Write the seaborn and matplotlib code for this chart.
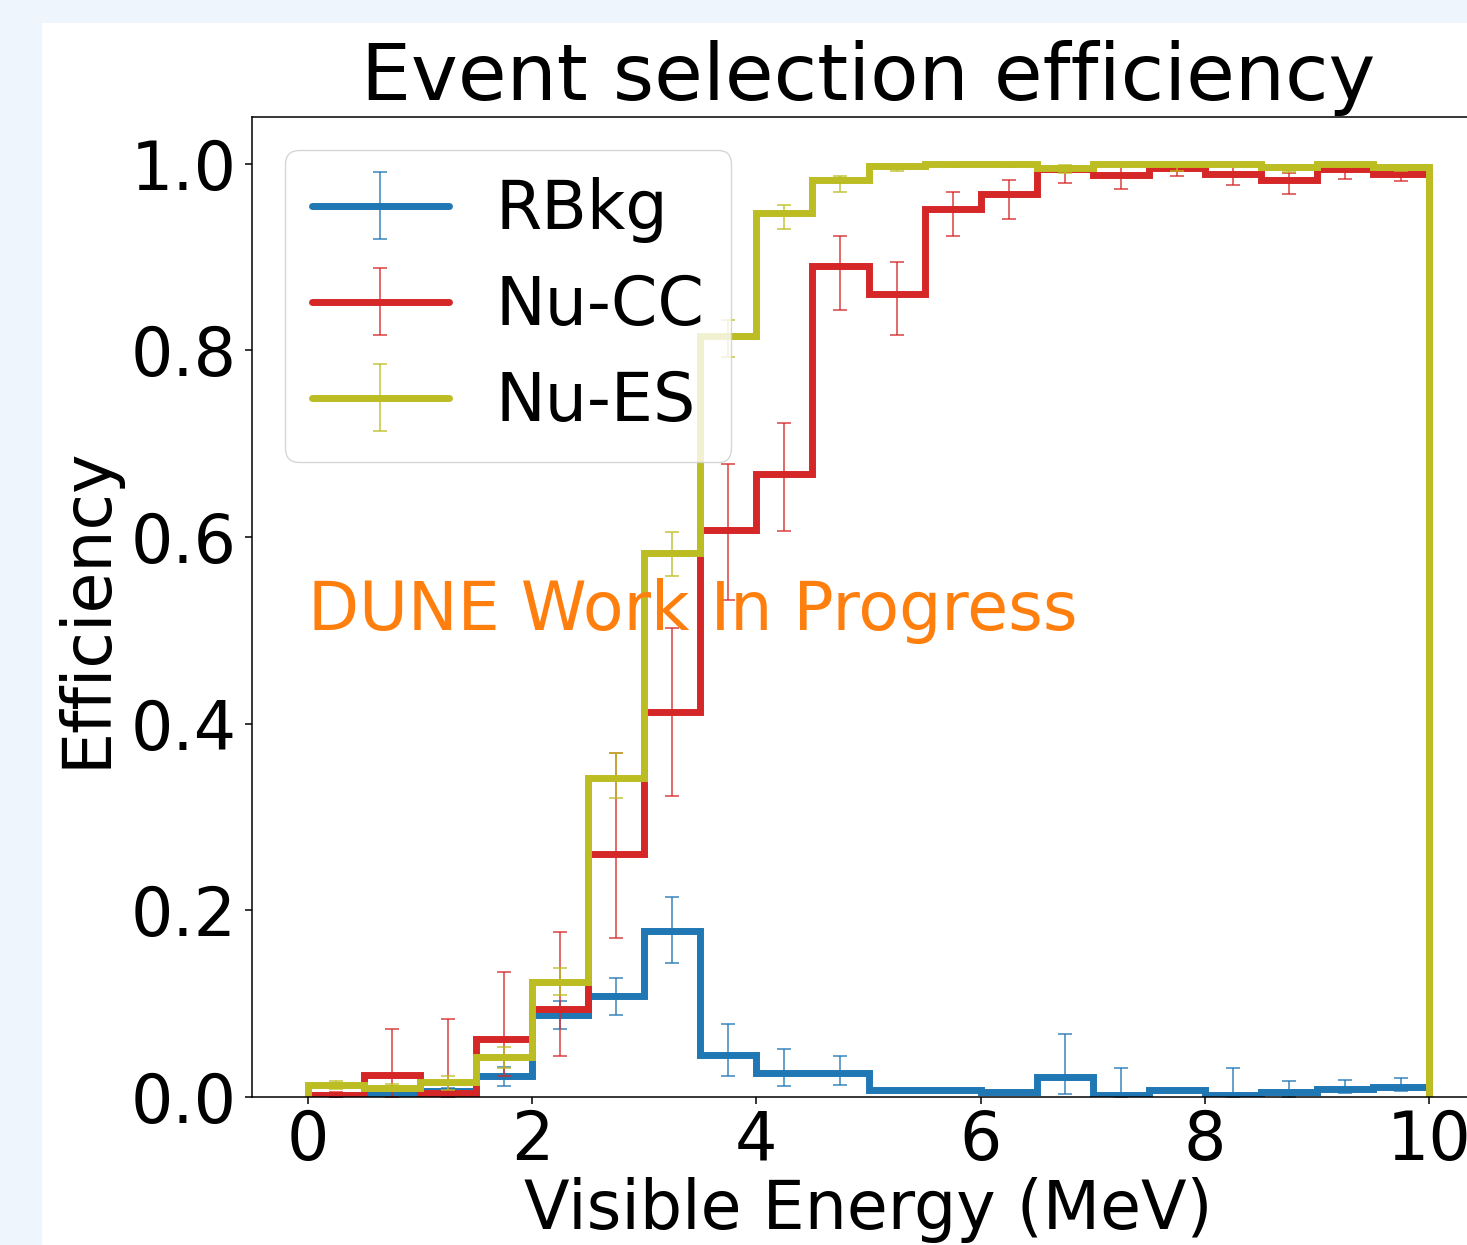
import numpy as np
import seaborn as sns
import matplotlib
matplotlib.use("Agg")
import matplotlib.pyplot as plt
from matplotlib.patches import Rectangle
from matplotlib.lines import Line2D
from matplotlib.legend_handler import HandlerTuple

# bin edges in visible energy (MeV), 20 bins of 0.5 MeV
bin_edges = np.arange(0, 10.01, 0.5)
bin_centers = 0.5 * (bin_edges[:-1] + bin_edges[1:])

labels = ["RBkg", "Nu-CC", "Nu-ES"]
colors = ["tab:blue", "tab:red", "tab:olive"]

# efficiencies
eff_rbkg = [0.001, 0.004, 0.006, 0.022, 0.088, 0.108, 0.178, 0.045, 0.026, 0.026,
            0.007, 0.007, 0.005, 0.021, 0.002, 0.008, 0.002, 0.005, 0.009, 0.011]
eff_nucc = [0.002, 0.024, 0.004, 0.062, 0.094, 0.260, 0.412, 0.607, 0.667, 0.890,
            0.860, 0.951, 0.967, 0.994, 0.988, 0.995, 0.989, 0.983, 0.994, 0.989]
eff_nues = [0.013, 0.010, 0.016, 0.043, 0.123, 0.342, 0.583, 0.815, 0.947, 0.983,
            0.997, 1.000, 1.000, 0.995, 1.000, 1.000, 1.000, 0.996, 1.000, 0.996]

# asymmetric errors (lower, upper)
err_lo_rbkg = [0.001, 0.003, 0.004, 0.010, 0.015, 0.020, 0.034, 0.022, 0.014, 0.013,
               0.000, 0.000, 0.000, 0.018, 0.002, 0.000, 0.002, 0.005, 0.005, 0.005]
err_hi_rbkg = [0.002, 0.003, 0.004, 0.010, 0.015, 0.020, 0.036, 0.033, 0.025, 0.018,
               0.000, 0.000, 0.000, 0.047, 0.029, 0.000, 0.029, 0.012, 0.009, 0.009]
err_lo_nucc = [0.002, 0.024, 0.004, 0.040, 0.050, 0.090, 0.089, 0.075, 0.061, 0.047,
               0.044, 0.028, 0.026, 0.015, 0.015, 0.008, 0.012, 0.015, 0.010, 0.008]
err_hi_nucc = [0.003, 0.049, 0.080, 0.072, 0.083, 0.109, 0.090, 0.071, 0.055, 0.033,
               0.035, 0.019, 0.015, 0.004, 0.009, 0.004, 0.008, 0.007, 0.004, 0.007]
err_lo_nues = [0.004, 0.004, 0.008, 0.012, 0.014, 0.022, 0.025, 0.022, 0.017, 0.013,
               0.005, 0.004, 0.004, 0.005, 0.003, 0.008, 0.003, 0.005, 0.004, 0.004]
err_hi_nues = [0.004, 0.004, 0.006, 0.011, 0.015, 0.027, 0.022, 0.018, 0.009, 0.004,
               0.002, 0.000, 0.000, 0.004, 0.000, 0.000, 0.000, 0.003, 0.000, 0.002]

series = [
    (eff_rbkg, err_lo_rbkg, err_hi_rbkg),
    (eff_nucc, err_lo_nucc, err_hi_nucc),
    (eff_nues, err_lo_nues, err_hi_nues),
]

sns.set_style("ticks")
plt.rcParams["font.family"] = ["DejaVu Sans"]
plt.rcParams.update({
    "font.size": 48,
    "axes.edgecolor": "black",
    "axes.linewidth": 1.1,
    "xtick.color": "black",
    "ytick.color": "black",
    "text.color": "black",
    "axes.labelcolor": "black",
    "xtick.major.size": 5,
    "ytick.major.size": 5,
    "xtick.major.width": 1.1,
    "ytick.major.width": 1.1,
    "ytick.major.pad": 6,
    "xtick.major.pad": 3,
})

fig = plt.figure(figsize=(14.67, 12.45), dpi=100)
fig.patch.set_facecolor("#eef5fc")
# white page area of the screenshot
fig.add_artist(Rectangle((42 / 1467, 0), 1, 1 - 23 / 1245, transform=fig.transFigure,
                         facecolor="white", edgecolor="none", zorder=-10))
ax = fig.add_axes([252 / 1467, 148 / 1245, 1233 / 1467, 980 / 1245])

handles = []
for (eff, lo, hi), lab, col in zip(series, labels, colors):
    # step outline of the efficiency histogram
    ax.hist(bin_centers, bins=bin_edges, weights=eff, histtype="step",
            color=col, linewidth=5)
    eb = ax.errorbar(bin_centers, eff, yerr=[lo, hi], fmt="none", ecolor=col,
                     elinewidth=1.3, capsize=5, capthick=1.3, alpha=0.75)
    handles.append((Line2D([], [], color=col, linewidth=5), eb))

ax.text(0, 0.5, "DUNE Work In Progress", color="tab:orange", fontsize=48)

ax.set_xlim(-0.5, 10.5)
ax.set_ylim(0, 1.05)
ax.set_xticks([0, 2, 4, 6, 8, 10])
ax.set_yticks([0.0, 0.2, 0.4, 0.6, 0.8, 1.0])
ax.set_title("Event selection efficiency", fontsize=57, pad=12)
ax.set_xlabel("Visible Energy (MeV)", labelpad=2)
ax.set_ylabel("Efficiency", labelpad=8)
ax.legend(handles, labels, loc="upper left", fontsize=48, handlelength=2.05,
          handletextpad=0.7, labelspacing=0.45,
          handler_map={tuple: HandlerTuple(ndivide=1)})

fig.savefig("out.png", dpi=100, facecolor=fig.get_facecolor())
